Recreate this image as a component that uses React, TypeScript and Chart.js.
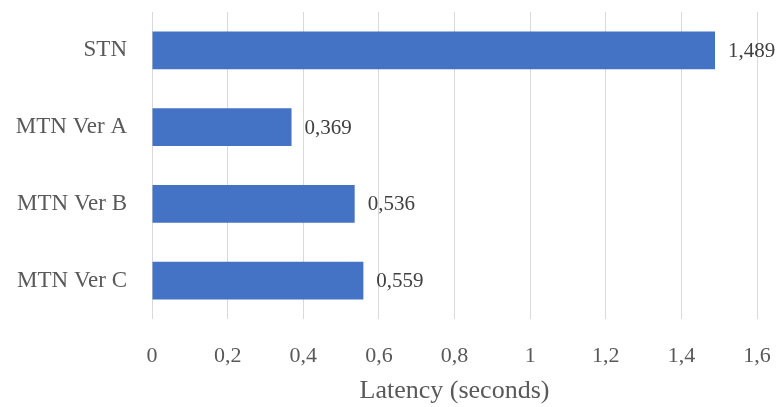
import React, { useEffect, useRef } from "react";
import { Chart, registerables } from "chart.js";

Chart.register(...registerables);

const categories = ["STN", "MTN Ver A", "MTN Ver B", "MTN Ver C"];
const latencyValues = [1.489, 0.369, 0.536, 0.559];
const xTicks = [0, 0.2, 0.4, 0.6, 0.8, 1, 1.2, 1.4, 1.6];

const FONT = "'Liberation Serif', 'DejaVu Serif', serif";
const TEXT = "#595959";

const fmt = (v: number, d: number) => v.toFixed(d).replace(".", ",");

const dataLabels = {
  id: "dataLabels",
  afterDatasetsDraw(chart: any) {
    const ctx = chart.ctx;
    const meta = chart.getDatasetMeta(0);
    ctx.save();
    ctx.font = `21px ${FONT}`;
    ctx.fillStyle = "#404040";
    ctx.textAlign = "left";
    ctx.textBaseline = "middle";
    meta.data.forEach((el: any, i: number) => {
      const v = chart.data.datasets[0].data[i] as number;
      ctx.fillText(fmt(v, 3), el.x + 13, el.y + 1);
    });
    ctx.restore();
  },
};

export default function App() {
  const ref = useRef<HTMLCanvasElement>(null);
  useEffect(() => {
    if (!ref.current) return;
    const chart = new Chart(ref.current, {
      type: "bar",
      data: {
        labels: categories,
        datasets: [
          {
            data: latencyValues,
            backgroundColor: "#4472C4",
            borderWidth: 0,
            barPercentage: 0.49,
            categoryPercentage: 1,
          },
        ],
      },
      options: {
        indexAxis: "y",
        animation: false,
        responsive: false,
        maintainAspectRatio: false,
        layout: { padding: { top: 12, right: 22, bottom: 0, left: 0 } },
        plugins: {
          legend: { display: false },
          tooltip: { enabled: false },
        },
        scales: {
          x: {
            min: 0,
            max: 1.6,
            afterBuildTicks: (scale: any) => {
              scale.ticks = xTicks.map((v) => ({ value: v }));
            },
            afterFit: (scale: any) => {
              scale.height = 88;
              scale.paddingLeft = 0;
              scale.paddingRight = 0;
            },
            grid: { color: "#d9d9d9", lineWidth: 1, drawTicks: false },
            border: { display: false },
            ticks: {
              padding: 24,
              color: TEXT,
              font: { family: FONT, size: 22 },
              callback: (v: any) => fmt(Number(v), Number(v) % 1 === 0 ? 0 : 1),
            },
            title: {
              display: true,
              text: "Latency (seconds)",
              color: TEXT,
              font: { family: FONT, size: 26 },
              padding: { top: 0, bottom: 0 },
            },
          },
          y: {
            afterFit: (scale: any) => {
              scale.width = 152;
              scale.paddingTop = 0;
              scale.paddingBottom = 0;
            },
            grid: { display: false, drawTicks: false },
            border: { display: false },
            ticks: {
              padding: 25,
              color: TEXT,
              font: { family: FONT, size: 23 },
            },
          },
        },
      },
      plugins: [dataLabels],
    });
    return () => chart.destroy();
  }, []);
  return (
    <div style={{ position: "fixed", left: 0, top: 0, width: 779, height: 407, background: "#fff" }}>
      <canvas ref={ref} width={779} height={407} style={{ width: 779, height: 407 }} />
    </div>
  );
}
